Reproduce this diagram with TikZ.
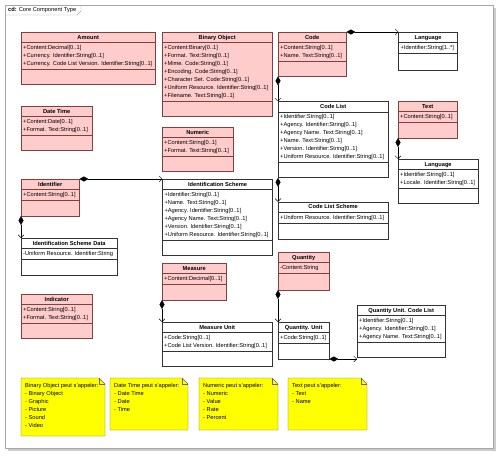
\documentclass[tikz,border=0pt]{standalone}
\usepackage{fontspec}
\setmainfont{Liberation Sans}
\usepackage{xcolor}
\definecolor{classPink}{HTML}{FFCCCC}
\definecolor{classRim}{HTML}{804040}
\definecolor{noteYellow}{HTML}{FFFF00}
\usepackage{tikz}
\usetikzlibrary{%
    shapes,
    shapes.multipart,
    arrows.meta,
    positioning,
    backgrounds
}

\begin{document}
\begin{tikzpicture}[x=1pt, y=-1pt,
                uml/.style={rectangle split, rectangle split parts=3, rectangle split part align={center,left,left}, rectangle split empty part height=12.8pt, rectangle split empty part depth=0pt, draw, anchor=north west, align=left, inner xsep=2pt, inner ysep=1pt, font=\fontsize{5.7}{8}\selectfont},
                pinkclass/.style={uml, fill=classPink, draw=classRim},
                plainclass/.style={uml, fill=white, draw=black!80},
                compose/.style={draw, {Diamond[length=9pt,width=5pt]}-{Straight Barb[length=3pt,width=6pt]}},
                notetext/.style={anchor=north west, align=left, inner sep=0pt, font=\fontsize{5.7}{8}\selectfont},
                notebox/.style={draw=black!60, fill=noteYellow}
            ]
            \useasboundingbox (0,0) rectangle (500,456);

            % frame
            \fill[gray!40] (8,8) rectangle (496,451);
            \draw[gray!70, fill=white] (5,5) rectangle (493,448);
            \draw[gray!70] (5,15) -- (77,15) -- (81,11) -- (81,5);
            \node (framelabel) [anchor=west, inner sep=0pt, font=\fontsize{5.7}{7}\selectfont] at (8,10.5) {\textbf{cd:} Core Component Type};

            % classes
            \node (amount) [pinkclass, minimum width=134, rectangle split empty part height=13.2pt] at (21,32) {\strut\textbf{Amount}\nodepart{two}\strut+Content:Decimal[0..1]\\+Currency. Identifier:String[0..1]\\+Currency. Code List Version. Identifier:String[0..1]\strut\nodepart{three}};
            \node (binobj) [pinkclass, minimum width=110, rectangle split empty part height=8.8pt] at (162,32) {\strut\textbf{Binary Object}\nodepart{two}\strut+Content:Binary[0..1]\\+Format. Text:String[0..1]\\+Mime. Code:String[0..1]\\+Encoding. Code:String[0..1]\\+Character Set. Code:String[0..1]\\+Uniform Resource. Identifier:String[0..1]\\+Filename. Text:String[0..1]\strut\nodepart{three}};
            \node (code) [pinkclass, minimum width=68] at (278,32) {\strut\textbf{Code}\nodepart{two}\strut+Content:String[0..1]\\+Name. Text:String[0..1]\strut\nodepart{three}};
            \node (language) [plainclass, minimum width=59, rectangle split empty part height=14.4pt, right=52pt of code.north east, anchor=north west] {\strut\textbf{Language}\nodepart{two}\strut+Identifier:String[1..*]\strut\nodepart{three}};

            \node (datetime) [pinkclass, minimum width=71] at (21,106) {\strut\textbf{Date Time}\nodepart{two}\strut+Content:Date[0..1]\\+Format. Text:String[0..1]\strut\nodepart{three}};
            \node (numeric) [pinkclass, minimum width=71] at (162,127) {\strut\textbf{Numeric}\nodepart{two}\strut+Content:String[0..1]\\+Format. Text:String[0..1]\strut\nodepart{three}};
            \node (codelist) [plainclass, minimum width=110, rectangle split empty part height=7.4pt, below=25pt of code.south west, anchor=north west] {\strut\textbf{Code List}\nodepart{two}\strut+Identifier:String[0..1]\\+Agency. Identifier:String[0..1]\\+Agency Name. Text:String[0..1]\\+Name. Text:String[0..1]\\+Version. Identifier:String[0..1]\\+Uniform Resource. Identifier:String[0..1]\strut\nodepart{three}};
            \node (text) [pinkclass, minimum width=59, rectangle split empty part height=13.4pt] at (398,101) {\strut\textbf{Text}\nodepart{two}\strut+Content:String[0..1]\strut\nodepart{three}};
            \node (locale) [plainclass, minimum width=80, below=21pt of text.south west, anchor=north west] {\strut\textbf{Language}\nodepart{two}\strut+Identifier:String[0..1]\\+Locale. Identifier:String[0..1]\strut\nodepart{three}};

            \node (identifier) [pinkclass, minimum width=58, rectangle split empty part height=13.4pt] at (21,179) {\strut\textbf{Identifier}\nodepart{two}\strut+Content:String[0..1]\strut\nodepart{three}};
            \node (idscheme) [plainclass, minimum width=110, rectangle split empty part height=11.4pt, right=83pt of identifier.north east, anchor=north west] {\strut\textbf{Identification Scheme}\nodepart{two}\strut+Identifier:String[0..1]\\+Name. Text:String[0..1]\\+Agency. Identifier:String[0..1]\\+Agency Name. Text:String[0..1]\\+Version. Identifier:String[0..1]\\+Uniform Resource. Identifier:String[0..1]\strut\nodepart{three}};
            \node (isdata) [plainclass, minimum width=96, rectangle split empty part height=13.4pt, below=22pt of identifier.south west, anchor=north west] {\strut\textbf{Identification Scheme Data}\nodepart{two}\strut-Uniform Resource. Identifier:String\strut\nodepart{three}};
            \node (clscheme) [plainclass, minimum width=110, rectangle split empty part height=14.4pt, below=24pt of codelist.south west, anchor=north west] {\strut\textbf{Code List Scheme}\nodepart{two}\strut+Uniform Resource. Identifier:String[0..1]\strut\nodepart{three}};

            \node (measure) [pinkclass, minimum width=64, rectangle split empty part height=13.4pt] at (162,263) {\strut\textbf{Measure}\nodepart{two}\strut+Content:Decimal[0..1]\strut\nodepart{three}};
            \node (quantity) [pinkclass, minimum width=51, rectangle split empty part height=14.4pt] at (278,252) {\strut\textbf{Quantity}\nodepart{two}\strut-Content:String\strut\nodepart{three}};
            \node (indicator) [pinkclass, minimum width=71] at (21,294) {\strut\textbf{Indicator}\nodepart{two}\strut+Content:String[0..1]\\+Format. Text:String[0..1]\strut\nodepart{three}};
            \node (munit) [plainclass, minimum width=110, rectangle split empty part height=11.8pt, below=22pt of measure.south west, anchor=north west] {\strut\textbf{Measure Unit}\nodepart{two}\strut+Code:String[0..1]\\+Code List Version. Identifier:String[0..1]\strut\nodepart{three}};
            \node (qunit) [plainclass, minimum width=51, rectangle split empty part height=13.4pt, below=32pt of quantity.south west, anchor=north west] {\strut\textbf{Quantity. Unit}\nodepart{two}\strut+Code:String[0..1]\strut\nodepart{three}};
            \node (quclist) [plainclass, minimum width=88, rectangle split empty part height=12.2pt] at (357,305) {\strut\textbf{Quantity Unit. Code List}\nodepart{two}\strut+Identifier:String[0..1]\\+Agency. Identifier:String[0..1]\\+Agency Name. Text:String[0..1]\strut\nodepart{three}};

            % compositions
            \draw [compose] (code.north east) -- (language.north west);
            \draw [compose] (code.south west) -- (codelist.north west);
            \draw [compose] (text.south west) -- (locale.north west);
            \draw [compose] (identifier.north east) -- (idscheme.north west);
            \draw [compose] (identifier.south west) -- (isdata.north west);
            \draw [compose] (codelist.south west) -- (clscheme.north west);
            \draw [compose] (measure.south west) -- (munit.north west);
            \draw [compose] (quantity.south west) -- (qunit.north west);
            \draw [compose] (qunit.south east) -- (qunit.south east -| quclist.west);

            % notes
            \foreach \l/\r/\b in {21/105/436, 110/188/430, 199/278/430, 288/367/430}{
                \draw [notebox] (\l,378) -- ({\r-6},378) -- (\r,384) -- (\r,\b) -- (\l,\b) -- cycle;
                \draw [draw=black!60] ({\r-6},378) -- ({\r-6},384) -- (\r,384);
            }
            \node (binnote) [notetext] at (25,383) {Binary Object peut s'appeler:\\- Binary Object\\- Graphic\\- Picture\\- Sound\\- Video};
            \node (datenote) [notetext] at (114,383) {Date Time peut s'appeler:\\- Date Time\\- Date\\- Time};
            \node (numnote) [notetext] at (203,383) {Numeric peut s'appeler:\\- Numeric\\- Value\\- Rate\\- Percent};
            \node (textnote) [notetext] at (292,383) {Text peut s'appeler:\\- Text\\- Name};
        \end{tikzpicture}
\end{document}
